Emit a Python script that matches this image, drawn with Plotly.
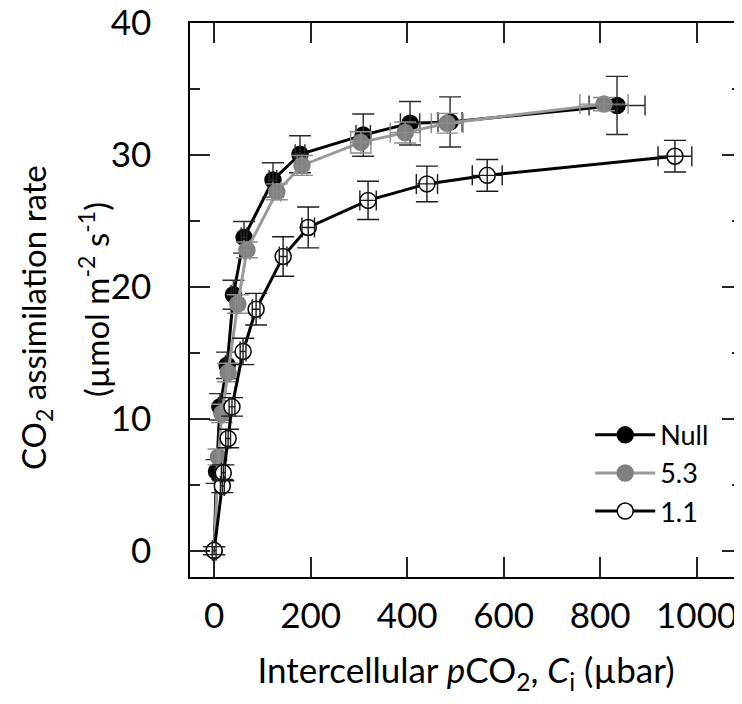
import plotly.graph_objects as go

# ---- data ----
null_x = [0, 5, 12, 27, 40, 62, 122, 178, 309, 406, 489, 835]
null_y = [0, 6.0, 10.9, 14.05, 19.4, 23.75, 28.1, 30.05, 31.5, 32.4, 32.5, 33.75]
null_xerr = [3, 3, 3, 4, 5, 6, 8, 10, 15, 20, 25, 58]
null_yerr = [0.3, 0.9, 1.0, 1.0, 1.1, 1.2, 1.3, 1.4, 1.6, 1.65, 1.9, 2.2]

s53_x = [0, 9, 16, 29, 49, 68, 130, 182, 304, 396, 483, 808]
s53_y = [0, 7.1, 10.4, 13.5, 18.7, 22.8, 27.2, 29.2, 30.95, 31.7, 32.4, 33.85]
s53_xerr = [3, 3, 3, 4, 5, 6, 8, 10, 21, 31, 33, 50]
s53_yerr = [0.3, 0.6, 0.7, 0.7, 0.7, 0.6, 0.6, 0.75, 0.8, 0.8, 0.75, 0.5]

s11_x = [0, 17, 19, 29, 37, 60, 87, 143, 195, 319, 441, 566, 955]
s11_y = [0, 4.9, 5.9, 8.5, 10.9, 15.1, 18.3, 22.3, 24.5, 26.55, 27.8, 28.45, 29.9]
s11_xerr = [4, 4, 4, 5, 6, 6, 8, 8, 13, 17, 22, 31, 35]
s11_yerr = [0.3, 0.5, 0.6, 0.7, 0.7, 1.0, 1.2, 1.5, 1.55, 1.45, 1.35, 1.2, 1.2]

series_names = ["Null", "5.3", "1.1"]
x_ticks = [0, 200, 400, 600, 800, 1000]
y_ticks = [0, 10, 20, 30, 40]

FONT = "Lato"

fig = go.Figure()

specs = [
    (series_names[0], null_x, null_y, null_xerr, null_yerr,
     "#000000", "#000000", "#000000", "#2a2a2a"),
    (series_names[1], s53_x, s53_y, s53_xerr, s53_yerr,
     "#9a9a9a", "#808080", "#808080", "#8c8c8c"),
    (series_names[2], s11_x, s11_y, s11_xerr, s11_yerr,
     "#000000", "#ffffff", "#000000", "#1a1a1a"),
]

for name, xs, ys, xe, ye, lcol, mfill, mline, ecol in specs:
    fig.add_trace(go.Scatter(
        x=xs, y=ys, name=name, mode="lines+markers",
        line=dict(color=lcol, width=3),
        marker=dict(size=16, color=mfill, line=dict(color=mline, width=1.5)),
        hoverinfo="skip",
    ))
    fig.add_trace(go.Scatter(
        x=xs, y=ys, mode="markers", showlegend=False, hoverinfo="skip",
        marker=dict(size=16, color="rgba(0,0,0,0)"),
        error_x=dict(type="data", array=xe, width=10, thickness=1.4, color=ecol),
        error_y=dict(type="data", array=ye, width=11, thickness=1.4, color=ecol),
    ))

axis_common = dict(
    showline=True, linecolor="#000000", linewidth=1.5,
    mirror="allticks", ticks="inside", ticklen=20, tickwidth=1.5,
    tickcolor="#222222", showgrid=False, zeroline=False, automargin=False,
    ticklabeloverflow="allow",
    tickfont=dict(family=FONT, size=35, color="#000000"),
)

fig.update_xaxes(
    range=[-50, 1094], tickvals=x_ticks, ticklabelstandoff=7,
    title=dict(text="Intercellular <i>p</i>CO<sub>2</sub>, <i>C</i><sub>i</sub> (µbar)",
               font=dict(family=FONT, size=35, color="#000000"), standoff=25),
    **axis_common,
)
fig.update_yaxes(
    range=[-2, 40], tickvals=y_ticks, ticklabelstandoff=30,
    minor=dict(dtick=5, ticks="inside", ticklen=10, tickwidth=1.5, tickcolor="#222222"),
    **axis_common,
)

fig.add_annotation(
    text="CO<sub>2</sub> assimilation rate", textangle=-90,
    xref="paper", yref="paper", x=0, y=0.5, xanchor="center", yanchor="middle",
    xshift=-155, yshift=-18, showarrow=False,
    font=dict(family=FONT, size=33, color="#000000"),
)
fig.add_annotation(
    text="(µmol m<sup>-2</sup> s<sup>-1</sup>)", textangle=-90,
    xref="paper", yref="paper", x=0, y=0.5, xanchor="center", yanchor="middle",
    xshift=-96, yshift=0, showarrow=False,
    font=dict(family=FONT, size=33, color="#000000"),
)

# the page body has an 8px margin, so the figure is sized/offset to compensate
fig.update_layout(
    width=734, height=696,
    margin=dict(l=182, r=0, t=15, b=127, autoexpand=False),
    paper_bgcolor="white", plot_bgcolor="white",
    showlegend=True,
    legend=dict(
        x=0.725, y=0.30, xanchor="left", yanchor="top",
        font=dict(family=FONT, size=27, color="#000000"),
        bgcolor="rgba(0,0,0,0)", itemwidth=60, tracegroupgap=0,
    ),
)

fig.write_html("out.html")
